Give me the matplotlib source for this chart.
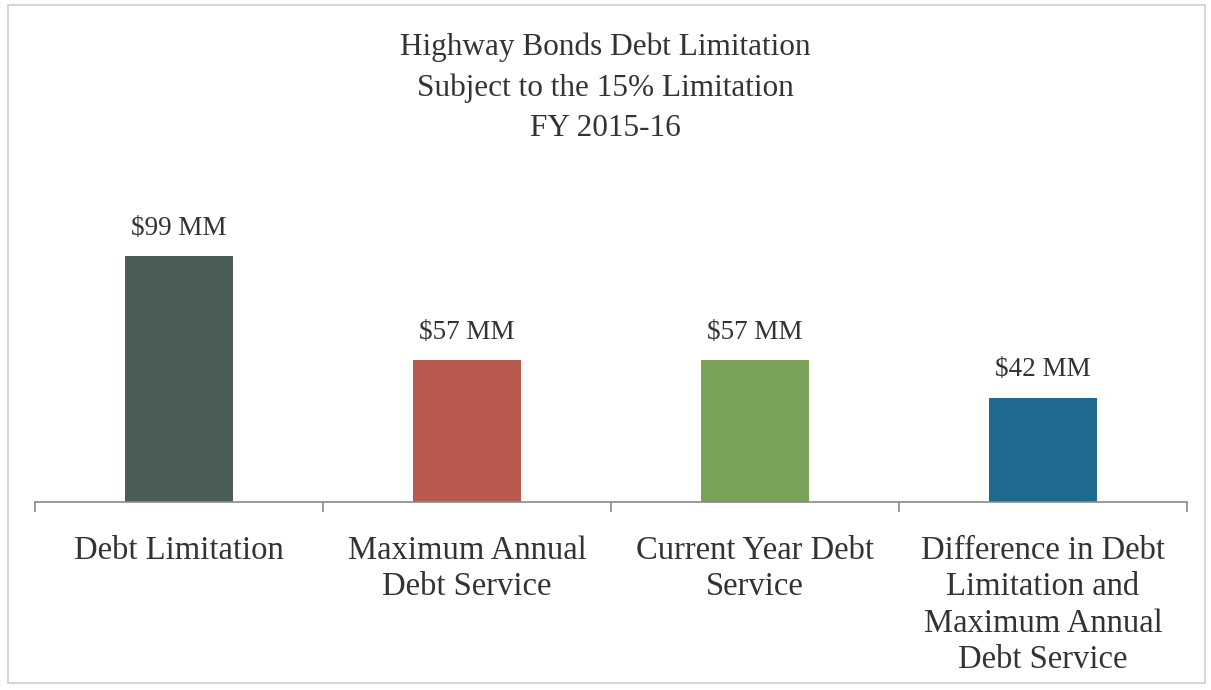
import matplotlib
matplotlib.use("Agg")
import matplotlib.pyplot as plt
from matplotlib.patches import Rectangle

categories = ["Debt Limitation", "Maximum Annual\nDebt Service", "Current Year Debt\nService",
              "Difference in Debt\nLimitation and\nMaximum Annual\nDebt Service"]
values = [99, 57, 57, 42]
value_labels = ["$99 MM", "$57 MM", "$57 MM", "$42 MM"]
colors = ["#4b5d57", "#b85a4e", "#79a157", "#1f6a8f"]
title = "Highway Bonds Debt Limitation\nSubject to the 15% Limitation\nFY 2015-16"

plt.rcParams['font.family'] = ['Liberation Serif', 'DejaVu Serif']
text_color = "#333333"

fig = plt.figure(figsize=(12.11, 6.9), dpi=100)
W, H = 1211, 690
left, right, base = 35, 1187, 502
ax = fig.add_axes([left / W, 1 - base / H, (right - left) / W, 0.450])

x = list(range(len(categories)))
bars = ax.bar(x, values, width=0.375, color=colors, zorder=2)
ax.set_xlim(-0.5, len(categories) - 0.5)
ax.set_ylim(0, 125)

for b, lab in zip(bars, value_labels):
    ax.annotate(lab, (b.get_x() + b.get_width() / 2, b.get_height()),
                xytext=(0, 11), textcoords="offset points", ha="center", va="bottom",
                fontsize=19.5, color=text_color)

for s in ["top", "right", "left"]:
    ax.spines[s].set_visible(False)
ax.spines["bottom"].set_color("#8a8a8a")
ax.spines["bottom"].set_linewidth(1.2)
ax.set_yticks([])
ax.set_xticks([i - 0.5 for i in range(len(categories) + 1)])
ax.set_xticklabels([])
ax.tick_params(axis="x", which="major", length=7, color="#8a8a8a", width=1.2)
ax.set_xticks(x, minor=True)
ax.set_xticklabels(categories, minor=True, fontsize=23.5, color=text_color, linespacing=1.25)
ax.tick_params(axis="x", which="minor", length=0, pad=24)

fig.text(0.5, 1 - 88 / H, title, ha="center", va="center", fontsize=22.5,
         color=text_color, linespacing=1.5)

fig.patches.append(Rectangle((8 / W, 1 - 683 / H), (1205 - 8) / W, (683 - 5) / H,
                             transform=fig.transFigure, fill=False, edgecolor="#cfcfcf", lw=1.2))

fig.savefig("out.png", dpi=100, facecolor="white")
